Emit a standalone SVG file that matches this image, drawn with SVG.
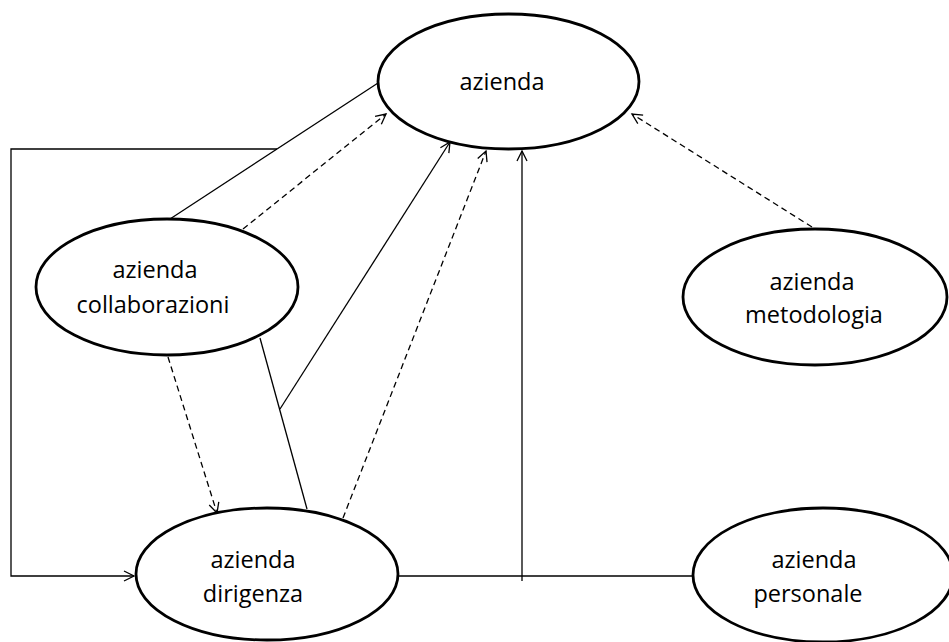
<svg xmlns="http://www.w3.org/2000/svg" width="949" height="642" viewBox="0 0 949 642">
<style>
.node ellipse{fill:#fff;stroke:#000;stroke-width:2.8}
.node text{font-family:"Open Sans","Noto Sans",sans-serif;font-size:23.5px;fill:#000;text-anchor:middle}
.c{fill:none;stroke:#000;stroke-width:1.3}
.d{stroke-dasharray:6 4}
</style>
<defs>
<marker id="arr" markerUnits="userSpaceOnUse" markerWidth="14" markerHeight="14" refX="11" refY="6" orient="auto">
<path d="M1,1 L11,6 L1,11" fill="none" stroke="#000" stroke-width="1.3"/>
</marker>
</defs>
<rect width="949" height="642" fill="#fff"/>
<g id="connectors">
<line class="c" x1="378" y1="83" x2="170" y2="219"/>
<polyline class="c" points="277,149 11,149 11,576 134,576" marker-end="url(#arr)"/>
<line class="c d" x1="243" y1="229" x2="386" y2="114" marker-end="url(#arr)"/>
<line class="c d" x1="168" y1="357" x2="217" y2="513" marker-end="url(#arr)"/>
<line class="c" x1="260" y1="338" x2="307" y2="509"/>
<line class="c" x1="280" y1="409" x2="450" y2="142" marker-end="url(#arr)"/>
<line class="c d" x1="343" y1="518" x2="486" y2="151" marker-end="url(#arr)"/>
<line class="c" x1="398" y1="576" x2="693" y2="576"/>
<line class="c" x1="522" y1="581" x2="522" y2="151" marker-end="url(#arr)"/>
<line class="c d" x1="812" y1="227" x2="632" y2="114" marker-end="url(#arr)"/>
</g>
<g id="azienda" class="node">
<ellipse cx="508.5" cy="81.5" rx="130.5" ry="67.5"/>
<text x="502" y="90">azienda</text>
</g>
<g id="collaborazioni" class="node">
<ellipse cx="167" cy="287" rx="131" ry="68"/>
<text x="155" y="278">azienda</text>
<text x="153" y="313">collaborazioni</text>
</g>
<g id="metodologia" class="node">
<ellipse cx="815" cy="297" rx="132" ry="68"/>
<text x="812" y="290">azienda</text>
<text x="814" y="323">metodologia</text>
</g>
<g id="dirigenza" class="node">
<ellipse cx="267" cy="574" rx="131" ry="66"/>
<text x="253" y="568">azienda</text>
<text x="253" y="602">dirigenza</text>
</g>
<g id="personale" class="node">
<ellipse cx="823" cy="575" rx="130" ry="67"/>
<text x="814" y="568">azienda</text>
<text x="808" y="602">personale</text>
</g>
</svg>
